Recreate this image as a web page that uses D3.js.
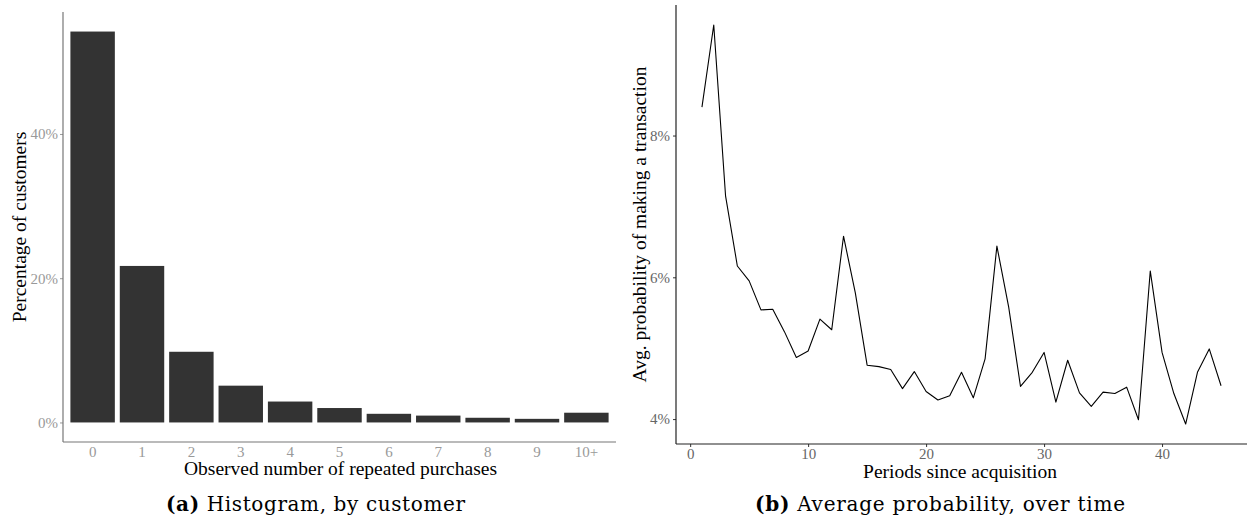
<!DOCTYPE html>
<html>
<head>
<meta charset="utf-8">
<script src="https://cdn.jsdelivr.net/npm/d3@7"></script>
<style>
  html, body { margin: 0; padding: 0; background: #fff; }
  svg { display: block; }
  text { font-family: "Liberation Serif", "Times New Roman", serif; }
  text.caption { font-family: "DejaVu Serif", "Liberation Serif", serif; }
</style>
</head>
<body>
<svg id="chart" width="1247" height="522"></svg>
<script>
// ---- Data: panel (a) histogram ----
const purchaseCategories = ["0", "1", "2", "3", "4", "5", "6", "7", "8", "9", "10+"];
const customerPercent = [54.2, 21.7, 9.8, 5.1, 2.9, 2.0, 1.2, 0.95, 0.65, 0.5, 1.35];
const histYTicks = [0, 20, 40];

// ---- Data: panel (b) average probability over time ----
const periods = [1,2,3,4,5,6,7,8,9,10,11,12,13,14,15,16,17,18,19,20,21,22,23,24,25,26,27,28,29,30,31,32,33,34,35,36,37,38,39,40,41,42,43,44,45];
const avgProbability = [8.40, 9.56, 7.15, 6.16, 5.95, 5.54, 5.55, 5.23, 4.87, 4.96,
                        5.41, 5.26, 6.58, 5.78, 4.76, 4.74, 4.70, 4.43, 4.67, 4.39,
                        4.27, 4.33, 4.66, 4.30, 4.85, 6.44, 5.58, 4.46, 4.66, 4.94,
                        4.24, 4.83, 4.37, 4.18, 4.38, 4.36, 4.45, 3.99, 6.09, 4.94,
                        4.36, 3.93, 4.66, 4.99, 4.47];
const lineYTicks = [4, 6, 8];
const lineXTicks = [0, 10, 20, 30, 40];

const svg = d3.select("#chart");

function caption(g, cx, label, rest, width) {
  const cap = g.append("text").attr("class", "caption")
    .attr("x", cx - width / 2).attr("y", 511)
    .style("font-size", "20px").attr("fill", "#000")
    .attr("textLength", width).attr("lengthAdjust", "spacing");
  cap.append("tspan").attr("font-weight", "bold").text(label);
  cap.append("tspan").text(rest);
}

// ================= Panel (a) =================
{
  const L = 63, R = 616, T = 12, B = 442;
  const g = svg.append("g");
  // ggplot-like discrete axis: 0.6-step expansion each side, bars 0.9 of step
  const x = d3.scaleBand().domain(purchaseCategories)
    .range([L, R]).paddingInner(0.1).paddingOuter(0.15);
  const maxV = d3.max(customerPercent);
  const y = d3.scaleLinear().domain([-0.05 * maxV, maxV * 1.05]).range([B, T]);

  g.selectAll("rect.bar").data(purchaseCategories).join("rect")
    .attr("class", "bar")
    .attr("x", d => x(d))
    .attr("width", x.bandwidth())
    .attr("y", (d, i) => y(customerPercent[i]))
    .attr("height", (d, i) => y(0) - y(customerPercent[i]))
    .attr("fill", "#333333");

  // y axis
  const yAxis = d3.axisLeft(y).tickValues(histYTicks).tickFormat(d => d + "%").tickSize(3).tickPadding(2);
  const ya = g.append("g").attr("transform", `translate(${L},0)`).call(yAxis);
  ya.select(".domain").remove();
  ya.selectAll(".tick line").attr("stroke", "#999999");
  ya.selectAll(".tick text").attr("fill", "#999999").style("font-size", "15px");
  g.append("line").attr("x1", L).attr("x2", L).attr("y1", T).attr("y2", B).attr("stroke", "#777777").attr("stroke-width", 1.2);

  // x axis
  const xAxis = d3.axisBottom(x).tickSize(0).tickPadding(4);
  const xa = g.append("g").attr("transform", `translate(0,${B})`).call(xAxis);
  xa.select(".domain").remove();
  xa.selectAll(".tick text").attr("fill", "#999999").style("font-size", "15px");
  g.append("line").attr("x1", L).attr("x2", R).attr("y1", B).attr("y2", B).attr("stroke", "#777777").attr("stroke-width", 1.2);

  g.append("text").attr("x", (L + R) / 2 + 1).attr("y", 475).attr("text-anchor", "middle")
    .style("font-size", "19.5px").attr("fill", "#000").text("Observed number of repeated purchases");
  g.append("text").attr("transform", `translate(26,${(T + B) / 2}) rotate(-90)`).attr("text-anchor", "middle")
    .style("font-size", "19.5px").attr("fill", "#000").text("Percentage of customers");

  caption(g, 315.5, "(a)", " Histogram, by customer", 299);
}

// ================= Panel (b) =================
{
  const L = 676, R = 1247, T = 5, B = 444;
  const g = svg.append("g");
  const xmin = d3.min(periods), xmax = d3.max(periods);
  const xr = xmax - xmin;
  const x = d3.scaleLinear().domain([xmin - 0.05 * xr, xmax + 0.05 * xr]).range([L, R]);
  const ymin = d3.min(avgProbability), ymax = d3.max(avgProbability);
  const yr = ymax - ymin;
  const y = d3.scaleLinear().domain([ymin - 0.05 * yr, ymax + 0.05 * yr]).range([B, T]);

  const line = d3.line().x((d, i) => x(periods[i])).y(d => y(d));
  g.append("path").datum(avgProbability).attr("d", line)
    .attr("fill", "none").attr("stroke", "#000").attr("stroke-width", 1.1).attr("stroke-linejoin", "round");

  const yAxis = d3.axisLeft(y).tickValues(lineYTicks).tickFormat(d => d + "%").tickSize(3).tickPadding(3);
  const ya = g.append("g").attr("transform", `translate(${L},0)`).call(yAxis);
  ya.select(".domain").remove();
  ya.selectAll(".tick line").attr("stroke", "#333333");
  ya.selectAll(".tick text").attr("fill", "#666666").style("font-size", "15px");

  const xAxis = d3.axisBottom(x).tickValues(lineXTicks).tickSize(3).tickPadding(1);
  const xa = g.append("g").attr("transform", `translate(0,${B})`).call(xAxis);
  xa.select(".domain").remove();
  xa.selectAll(".tick line").attr("stroke", "#333333");
  xa.selectAll(".tick text").attr("fill", "#666666").style("font-size", "15px");

  g.append("line").attr("x1", L).attr("x2", L).attr("y1", T).attr("y2", B).attr("stroke", "#222").attr("stroke-width", 1.2);
  g.append("line").attr("x1", L).attr("x2", R).attr("y1", B).attr("y2", B).attr("stroke", "#222").attr("stroke-width", 1.2);

  g.append("text").attr("x", 960).attr("y", 477.5).attr("text-anchor", "middle")
    .style("font-size", "19.5px").attr("fill", "#000").text("Periods since acquisition");
  g.append("text").attr("transform", `translate(646,${(T + B) / 2}) rotate(-90)`).attr("text-anchor", "middle")
    .style("font-size", "19.5px").attr("fill", "#000").text("Avg. probability of making a transaction");

  caption(g, 940, "(b)", " Average probability, over time", 370);
}
</script>
</body>
</html>
